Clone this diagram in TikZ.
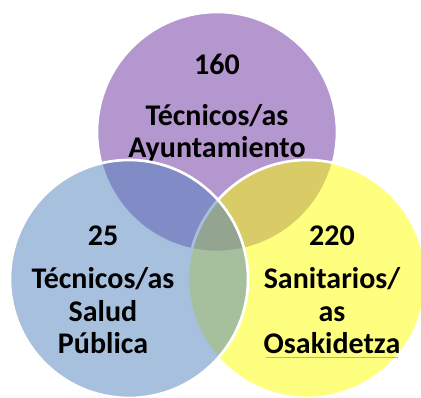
\documentclass[tikz,border=0pt]{standalone}
\usepackage{fontspec}
\setmainfont{Carlito}
\definecolor{ayto}{HTML}{B497CE}
\definecolor{salud}{HTML}{4F81BD}
\definecolor{osaki}{HTML}{FFFF00}
\definecolor{squig}{HTML}{F59A6E}
\begin{document}
\begin{tikzpicture}[x=0.75pt,y=-0.75pt,
  ring/.style={draw=white,line width=2pt,fill opacity=0.5},
  num/.style={font=\bfseries\fontsize{22.5}{24.5}\selectfont,anchor=base},
  lbl/.style={font=\bfseries\fontsize{22.5}{24.5}\selectfont,align=center,anchor=base}]
\useasboundingbox (0,0) rectangle (421,398);
\draw[draw=white,line width=2pt,fill=ayto] (217,132) circle [radius=120];
\node[num] (n160) at (217,75) {160};
\node[lbl] (ayto) at (217,158) {Técnicos/as\\Ayuntamiento};
\draw[ring,fill=osaki] (307,279) circle [radius=119];
\draw[ring,fill=salud] (129,279) circle [radius=119];
\node[num] (n25) at (103,246) {25};
\node[lbl] (salud) at (103,354) {Técnicos/as\\Salud\\Pública};
\node[num] (n220) at (332,246) {220};
\node[lbl] (sanit) at (332,354) {Sanitarios/\\as\\Osakidetza};
\draw[squig,line width=0.5pt] ([shift={(-66,3)}]sanit.base) -- ([shift={(66,3)}]sanit.base);
\end{tikzpicture}
\end{document}
